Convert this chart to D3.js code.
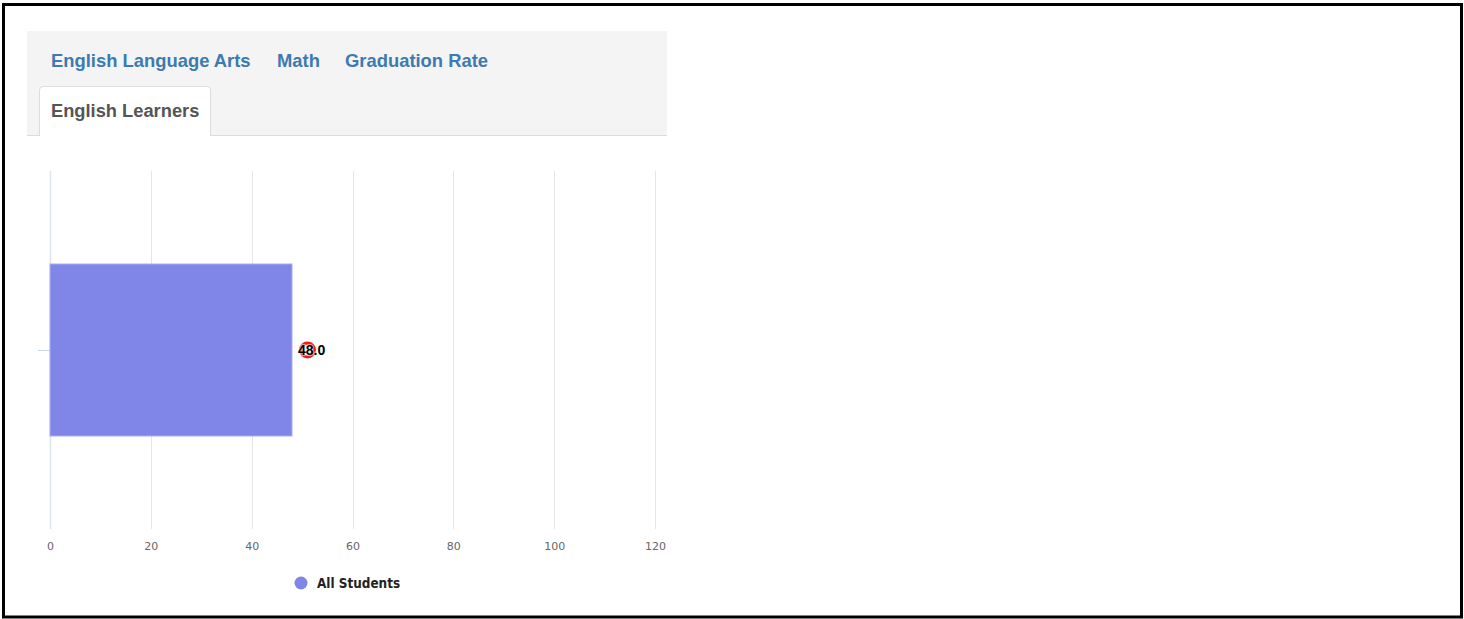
<!DOCTYPE html>
<html>
<head>
<meta charset="utf-8">
<script src="https://cdn.jsdelivr.net/npm/d3@7"></script>
<style>
  html, body { margin: 0; padding: 0; background: #ffffff; }
  svg { display: block; }
</style>
</head>
<body>
<svg id="chart" width="1464" height="619"></svg>
<script>
// Tabs above the chart
const tabLabels = ["English Language Arts", "Math", "Graduation Rate"];
const activeTab = "English Learners";

// Chart data
const categories = ["All Students"];
const seriesName = "All Students";
const values = [48.0];
const xTicks = [0, 20, 40, 60, 80, 100, 120];

const svg = d3.select("#chart");

// outer frame
svg.append("rect")
  .attr("x", 3.5).attr("y", 4.5)
  .attr("width", 1458).attr("height", 612.5)
  .attr("fill", "#ffffff")
  .attr("stroke", "#000000")
  .attr("stroke-width", 3);

// tab strip
const tabs = svg.append("g");
tabs.append("rect")
  .attr("x", 27).attr("y", 31).attr("width", 640).attr("height", 104)
  .attr("fill", "#f4f4f4");
tabs.append("line")
  .attr("x1", 27).attr("x2", 667).attr("y1", 135.5).attr("y2", 135.5)
  .attr("stroke", "#dddddd");

const tabX = [51, 277, 345];
tabs.selectAll("text.tab")
  .data(tabLabels)
  .join("text")
  .attr("class", "tab")
  .attr("x", (d, i) => tabX[i])
  .attr("y", 67)
  .attr("font-family", "Liberation Sans, Arial, sans-serif")
  .attr("font-weight", "bold")
  .attr("font-size", 18.4)
  .attr("fill", "#3d7ab0")
  .text(d => d);

// active tab
tabs.append("path")
  .attr("d", "M39.5,136 V90 Q39.5,86.5 43,86.5 H207 Q210.5,86.5 210.5,90 V136")
  .attr("fill", "#ffffff")
  .attr("stroke", "#dddddd");
tabs.append("text")
  .attr("x", 51).attr("y", 117)
  .attr("font-family", "Liberation Sans, Arial, sans-serif")
  .attr("font-weight", "bold")
  .attr("font-size", 18.3)
  .attr("fill", "#555555")
  .text(activeTab);

// plot area
const plot = { left: 50, right: 655, top: 171, bottom: 529 };

const x = d3.scaleLinear().domain([0, 120]).range([plot.left, plot.right]);
const y = d3.scaleBand().domain(categories).range([plot.top, plot.bottom])
  .paddingInner(0.351).paddingOuter(0.351);

// vertical grid lines
svg.append("g")
  .selectAll("line")
  .data(xTicks.filter(d => d !== 0))
  .join("line")
  .attr("x1", d => Math.round(x(d)) + 0.5)
  .attr("x2", d => Math.round(x(d)) + 0.5)
  .attr("y1", plot.top).attr("y2", plot.bottom)
  .attr("stroke", "#e6e6e6");

// category axis (left)
svg.append("line")
  .attr("x1", plot.left + 0.5).attr("x2", plot.left + 0.5)
  .attr("y1", plot.top).attr("y2", plot.bottom)
  .attr("stroke", "#dfe4f2").attr("stroke-width", 1.5);
svg.append("g")
  .selectAll("line")
  .data(categories)
  .join("line")
  .attr("x1", 38).attr("x2", plot.left)
  .attr("y1", d => Math.round(y(d) + y.bandwidth() / 2) + 0.5)
  .attr("y2", d => Math.round(y(d) + y.bandwidth() / 2) + 0.5)
  .attr("stroke", "#ccd6eb");

// value axis labels
const xAxis = d3.axisBottom(x).tickValues(xTicks).tickSize(0).tickPadding(0)
  .tickFormat(d3.format("d"));
const gx = svg.append("g")
  .attr("transform", `translate(0,550)`)
  .call(xAxis);
gx.select(".domain").remove();
gx.selectAll("text")
  .attr("font-family", "DejaVu Sans, sans-serif")
  .attr("font-size", 11)
  .attr("fill", "#666666")
  .attr("dy", 0);

// bars
svg.append("g")
  .selectAll("rect")
  .data(values)
  .join("rect")
  .attr("x", x(0))
  .attr("y", (d, i) => y(categories[i]))
  .attr("width", d => x(d) - x(0))
  .attr("height", y.bandwidth())
  .attr("fill", "#7f86e8")
  .attr("stroke", "#a7adf2")
  .attr("stroke-width", 1);

// data labels
const labels = svg.append("g")
  .selectAll("g")
  .data(values)
  .join("g")
  .attr("transform", (d, i) => `translate(${x(d) + 6},${y(categories[i]) + y.bandwidth() / 2})`);
labels.append("circle")
  .attr("cx", 9.5).attr("cy", 0).attr("r", 7)
  .attr("fill", "#ffe5e5")
  .attr("stroke", "#f01c1c")
  .attr("stroke-width", 3);
labels.append("text")
  .attr("x", 0).attr("y", 5)
  .attr("font-family", "Liberation Sans, Arial, sans-serif")
  .attr("font-weight", "bold")
  .attr("font-size", 14)
  .attr("fill", "#000000")
  .attr("stroke", "#ffffff")
  .attr("stroke-width", 2)
  .attr("stroke-opacity", 0.5)
  .attr("paint-order", "stroke")
  .text(d => d.toFixed(1));

// legend
const legend = svg.append("g").attr("transform", "translate(301,583)");
legend.append("circle").attr("r", 6.5).attr("fill", "#7f86e8");
legend.append("text")
  .attr("x", 16).attr("y", 5)
  .attr("font-family", "DejaVu Sans Condensed, DejaVu Sans, sans-serif")
  .attr("font-weight", "bold")
  .attr("font-size", 13.4)
  .attr("fill", "#222222")
  .text(seriesName);
</script>
</body>
</html>
